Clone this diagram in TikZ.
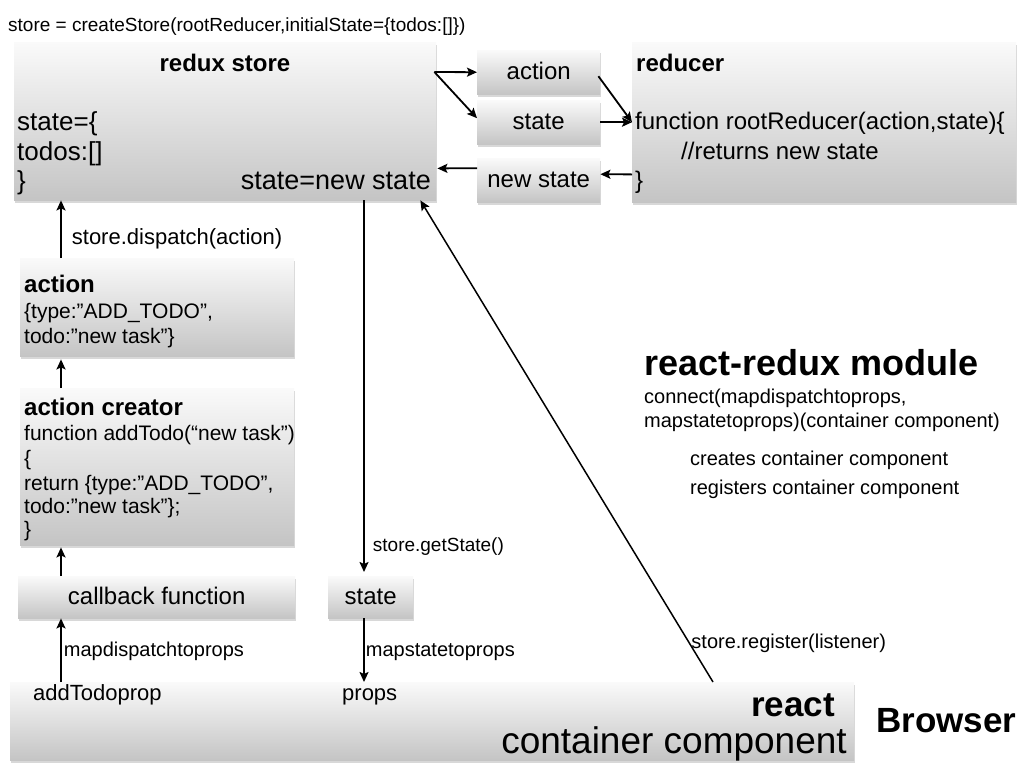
\documentclass[tikz,border=0pt]{standalone}
\usepackage{fontspec}
\setmainfont{Liberation Sans}
\usetikzlibrary{arrows.meta,shadows}
\newcommand\fz[1]{\fontsize{#1}{#1}\selectfont}
\begin{document}
\begin{tikzpicture}[x=1pt,y=-1pt,
  fs/.style={font=\fz{#1}, text height=\fpeval{#1*0.62}pt, text depth=0pt},
  bfs/.style={font=\bfseries\fz{#1}, text height=\fpeval{#1*0.62}pt, text depth=0pt},
  box/.style={draw=none, top color=black!2, bottom color=black!23, inner sep=0, anchor=north west,
    drop shadow={shadow xshift=1pt, shadow yshift=-3pt, opacity=.3}},
  txt/.style={inner sep=0, anchor=west},
  arr/.style={-{Stealth[length=10pt,width=9pt,inset=2pt]}, line width=1.8pt},
  lbl/.style={inner sep=0, anchor=west, fs=20}]
\useasboundingbox[fill=white] (0,0) rectangle (1028,772);

% boxes
\node[box, minimum width=422pt, minimum height=158pt] (store) at (14,42) {};
\node[box, minimum width=123pt, minimum height=44pt, fs=24] (abox) at (477,50) {action};
\node[box, minimum width=123pt, minimum height=44pt, fs=24] (sbox) at (477,100) {state};
\node[box, minimum width=123pt, minimum height=44pt, fs=24] (nbox) at (477,158) {new state};
\node[box, minimum width=384pt, minimum height=160pt] (reducer) at (632,42) {};
\node[box, minimum width=274pt, minimum height=98pt] (actbox) at (20,258) {};
\node[box, minimum width=274pt, minimum height=157pt] (creator) at (20,388) {};
\node[box, minimum width=277pt, minimum height=42pt, fs=24] (cb) at (18,576) {callback function};
\node[box, minimum width=85pt, minimum height=42pt, fs=24] (stbox) at (328,576) {state};
\node[box, minimum width=844pt, minimum height=78pt] (cont) at (10,682) {};

% top text
\node[txt, fs=19] (create) at (8,26) {store = createStore(rootReducer,initialState=\{todos:[]\})};

% store texts
\node[inner sep=0, bfs=24] (rstitle) at (225,64) {redux store};
\node[txt, fs=26] (st1) at (17,122) {state=\{};
\node[txt, fs=26] (st2) at (17,152) {todos:[]};
\node[txt, fs=26] (st3) at (17,181) {\}};
\node[txt, anchor=east, fs=27] (st4) at (431,181) {state=new state};

% reducer texts
\node[txt, bfs=24] (rdtitle) at (636,64) {reducer};
\node[txt, fs=24] (rd1) at (635,122) {function rootReducer(action,state)\{};
\node[txt, fs=24] (rd2) at (681,152) {//returns new state};
\node[txt, fs=24] (rd3) at (635,181) {\}};

% action box
\node[txt, bfs=24] (ac1) at (24,285) {action};
\node[txt, fs=21] (ac2) at (24,312) {\{type:”ADD\_TODO”,};
\node[txt, fs=21] (ac3) at (24,337) {todo:”new task”\}};

% action creator
\node[txt, bfs=24] (cr1) at (24,408) {action creator};
\node[txt, fs=21] (cr2) at (24,434) {function addTodo(“new task”)};
\node[txt, fs=21] (cr3) at (24,459) {\{};
\node[txt, fs=21] (cr4) at (24,484) {return \{type:”ADD\_TODO”,};
\node[txt, fs=21] (cr5) at (24,507) {todo:”new task”\};};
\node[txt, fs=21] (cr6) at (24,530) {\}};

% container
\node[txt, fs=22] (adp) at (33,694) {addTodoprop};
\node[txt, fs=22] (props) at (342,694) {props};
\node[txt, anchor=east, bfs=35] (react) at (835,706) {react};
\node[txt, anchor=east, fs=37] (cc) at (847,742) {container component};
\node[txt, bfs=35] (browser) at (876,722) {Browser};

% react-redux module
\node[txt, bfs=36] (rrm) at (644,364) {react-redux module};
\node[txt, fs=20] (con1) at (644,397) {connect(mapdispatchtoprops,};
\node[txt, fs=20] (con2) at (644,421) {mapstatetoprops)(container component)};
\node[txt, fs=20] (cre) at (690,459) {creates container component};
\node[txt, fs=20] (reg) at (690,488) {registers container component};

% connectors
\draw[arr] ([shift={(-2,30)}]store.north east) -- (abox.west);
\draw[arr] ([shift={(-2,30)}]store.north east) -- ([shift={(0,-4)}]sbox.west);
\draw[arr] ([shift={(-2,4)}]abox.east) -- (reducer.west);
\draw[arr] (sbox.east) -- (reducer.west);
\draw[arr] ([shift={(0,-28)}]reducer.south west) -- ([shift={(0,-6)}]nbox.east);
\draw[arr] ([shift={(0,-12)}]nbox.west) -- ([shift={(1,-32)}]store.south east);

\draw[arr] ([xshift=41pt]actbox.north west) -- ([xshift=47pt]store.south west)
  node[lbl, pos=.36, xshift=10pt, fs=22] {store.dispatch(action)};
\draw[arr, shorten >=3pt] ([xshift=41pt]creator.north west) -- ([xshift=41pt]actbox.south west);
\draw[arr, shorten >=2pt] ([xshift=43pt]cb.north west) -- ([xshift=41pt]creator.south west);
\draw[arr] ([xshift=51pt]cont.north west) -- ([xshift=43pt]cb.south west)
  node[lbl, pos=.5, xshift=2pt] {mapdispatchtoprops};

\draw[arr, shorten >=4pt] ([xshift=350pt]store.south west) -- ([xshift=36pt]stbox.north west)
  node[lbl, pos=.92, xshift=8pt, fs=19] {store.getState()};
\draw[arr] ([xshift=36pt]stbox.south west) -- ([xshift=354pt]cont.north west)
  node[lbl, pos=.5, xshift=1pt] {mapstatetoprops};

\draw[-{Stealth[length=10pt,width=9pt,inset=2pt]}, line width=1.5pt] ([xshift=703pt]cont.north west) -- ([xshift=-16pt]store.south east)
  node[lbl, pos=.083, xshift=2pt] {store.register(listener)};
\end{tikzpicture}
\end{document}
